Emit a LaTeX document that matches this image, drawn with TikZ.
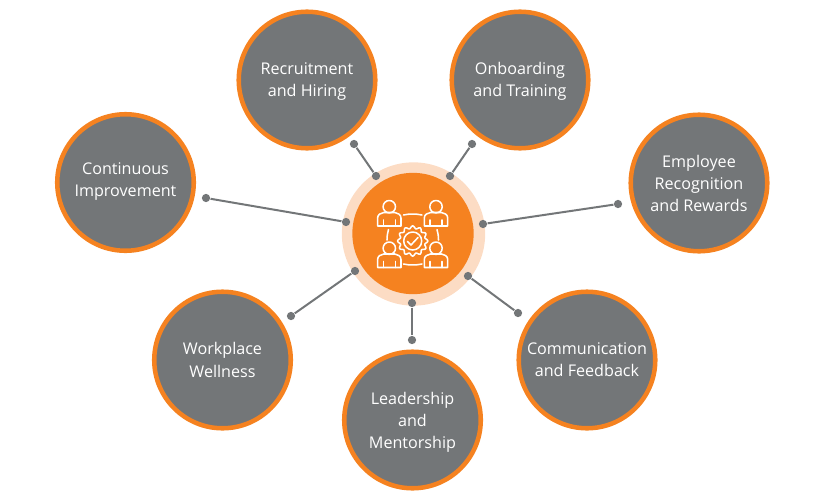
\documentclass[tikz,border=0pt]{standalone}
\usepackage{fontspec}
\setmainfont{Open Sans}
\definecolor{hrorange}{RGB}{245,130,32}
\definecolor{hrgrey}{RGB}{115,118,120}
\definecolor{hrpale}{RGB}{252,220,196}
\tikzset{every picture/.style={line width=0.75pt}}
\tikzset{
  topic/.style={circle,draw=hrorange,fill=hrgrey,line width=3.4pt,minimum size=102.4pt,inner sep=0pt},
  topictext/.style={align=center,text=white,inner sep=0pt,font=\fontsize{12.1}{16.6}\selectfont},
  hubouter/.style={circle,fill=hrpale,minimum size=107.5pt,inner sep=0pt},
  hubinner/.style={circle,fill=hrorange,minimum size=91pt,inner sep=0pt},
  dot/.style={circle,fill=hrgrey,minimum size=6.2pt,inner sep=0pt},
  spoke/.style={draw=hrgrey,line width=1.5pt},
  icon/.style={draw=white,line width=1.15pt,line join=round,line cap=round},
  person/.pic={
    \begin{scope}[yscale=-1]
    \draw[icon] (0,-12.3) circle (6.2);
    \draw[icon] (-11.7,7) -- (-11.7,-1) .. controls (-11.7,-4.5) and (-8.5,-6) .. (-5.5,-6.5) -- (5.5,-6.5) .. controls (8.5,-6) and (11.7,-4.5) .. (11.7,-1) -- (11.7,7) -- cycle;
    \draw[icon] (-6,7) -- (-6,1);
    \draw[icon] (6,7) -- (6,1);
    \end{scope}
  }
}
\begin{document}
\begin{tikzpicture}[x=0.75pt,y=0.75pt,yscale=-1,xscale=1]
\useasboundingbox (0,0) rectangle (825,500);

% hub
\node[hubouter] (hubring) at (413.5,234) {};
\node[hubinner] (hub) at (413,233.5) {};

% topics
\node[topic,label={[topictext,yshift=-1.2pt]center:Recruitment\\and Hiring}] (recruit) at (307,80) {};
\node[topic,label={[topictext,yshift=-1.2pt]center:Onboarding\\and Training}] (onboard) at (520,80) {};
\node[topic,label={[topictext,yshift=-0.5pt]center:Employee\\Recognition\\and Rewards}] (reward) at (699,183) {};
\node[topic,label={[topictext]center:Communication\\and Feedback}] (comm) at (587,360) {};
\node[topic,label={[topictext,yshift=-1.5pt]center:Leadership\\and\\Mentorship}] (lead) at (412.5,420) {};
\node[topic,label={[topictext]center:Workplace\\Wellness}] (well) at (222.5,360) {};
\node[topic,label={[topictext,yshift=0.7pt]center:Continuous\\Improvement}] (improve) at (125.5,182.5) {};

% spokes
\node[dot] (recruita) at (376,176) {};
\node[dot] (recruitb) at (354,144) {};
\node[dot] (onboarda) at (450,176) {};
\node[dot] (onboardb) at (472,144) {};
\node[dot] (rewarda) at (483,224) {};
\node[dot] (rewardb) at (618,204) {};
\node[dot] (comma) at (468,276) {};
\node[dot] (commb) at (518,313) {};
\node[dot] (leada) at (412,303) {};
\node[dot] (leadb) at (412,340) {};
\node[dot] (wella) at (355,271) {};
\node[dot] (wellb) at (291,316) {};
\node[dot] (improvea) at (346,222) {};
\node[dot] (improveb) at (206,198) {};
\draw[spoke] (recruita) -- (recruitb);
\draw[spoke] (onboarda) -- (onboardb);
\draw[spoke] (rewarda) -- (rewardb);
\draw[spoke] (comma) -- (commb);
\draw[spoke] (leada) -- (leadb);
\draw[spoke] (wella) -- (wellb);
\draw[spoke] (improvea) -- (improveb);

% icon
\pic at (389.3,219) {person};
\pic at (436,219) {person};
\pic at (389.3,260.5) {person};
\pic at (436,260.5) {person};
\draw[icon,fill=hrorange] plot[domain=0:360,samples=145,smooth] ({412.7+(13.8+1.3*cos(12*\x))*cos(\x)},{241+(13.8+1.3*cos(12*\x))*sin(\x)}) -- cycle;
\draw[icon] (412.7,241) circle (9);
\draw[icon] (407.5,241.5) -- (411,245) -- (418,237.5);
\draw[icon] (403.5,215) .. controls (409,213.7) and (416,213.7) .. (422,215);
\draw[icon] (403.5,264) .. controls (409,265.3) and (416,265.3) .. (422,264);
\draw[icon] (388.5,229.5) .. controls (387.5,233) and (387,236) .. (387,240);
\draw[icon] (437,229.5) .. controls (438,233) and (438.5,236) .. (438.5,240);
\end{tikzpicture}
\end{document}
